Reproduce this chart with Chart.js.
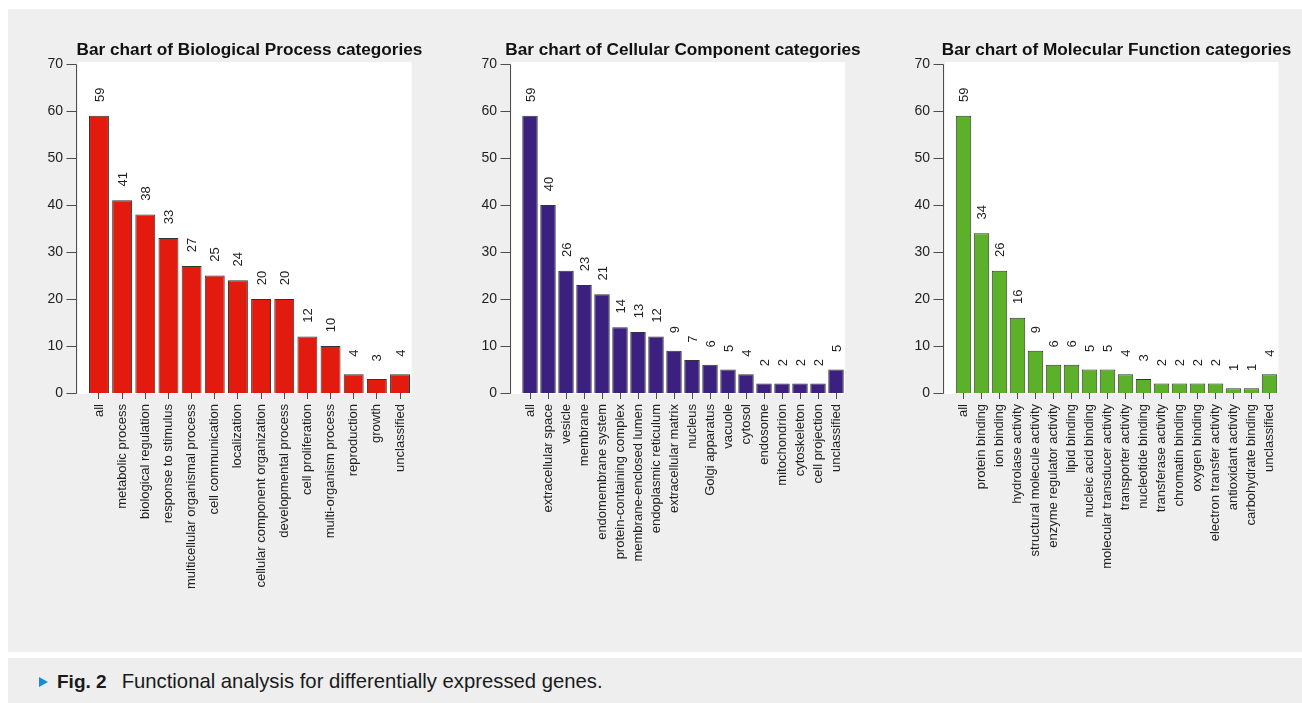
<!DOCTYPE html>
<html>
<head>
<meta charset="utf-8">
<script src="https://cdn.jsdelivr.net/npm/chart.js@4.4.1/dist/chart.umd.min.js"></script>
<style>
    html, body { margin: 0; padding: 0; background: #ffffff; }
    body { width: 1302px; height: 703px; position: relative; overflow: hidden; }
    #panel { position: absolute; left: 8px; top: 9px; width: 1294px; height: 643px; background: #efefef; }
    #caption { position: absolute; left: 8px; top: 658px; width: 1294px; height: 45px; background: #eeeeee;
        font-family: "Liberation Sans", Arial, sans-serif; font-size: 20.3px; color: #1a1a1a; }
    #caption .arrow { position: absolute; left: 31px; top: 19px; width: 0; height: 0;
        border-top: 5px solid transparent; border-bottom: 5px solid transparent; border-left: 9px solid #1a8ad4; }
    #caption .txt { position: absolute; left: 49px; top: 12px; white-space: nowrap; }
    #caption b { font-size: 19px; margin-right: 15px; }
    canvas { position: absolute; top: 0; }
</style>
</head>
<body>
<div id="panel"></div>
<canvas id="bp-chart" width="440" height="650" style="left:0px"></canvas>
<canvas id="cc-chart" width="430" height="650" style="left:440px"></canvas>
<canvas id="mf-chart" width="432" height="650" style="left:870px"></canvas>
<div id="caption"><span class="arrow"></span><span class="txt"><b>Fig. 2</b>Functional analysis for differentially expressed genes.</span></div>

<script>
    // --- data ---
    const bpLabels = ['all', 'metabolic process', 'biological regulation', 'response to stimulus',
        'multicellular organismal process', 'cell communication', 'localization',
        'cellular component organization', 'developmental process', 'cell proliferation',
        'multi-organism process', 'reproduction', 'growth', 'unclassified'];
    const bpValues = [59, 41, 38, 33, 27, 25, 24, 20, 20, 12, 10, 4, 3, 4];

    const ccLabels = ['all', 'extracellular space', 'vesicle', 'membrane', 'endomembrane system',
        'protein-containing complex', 'membrane-enclosed lumen', 'endoplasmic reticulum',
        'extracellular matrix', 'nucleus', 'Golgi apparatus', 'vacuole', 'cytosol', 'endosome',
        'mitochondrion', 'cytoskeleton', 'cell projection', 'unclassified'];
    const ccValues = [59, 40, 26, 23, 21, 14, 13, 12, 9, 7, 6, 5, 4, 2, 2, 2, 2, 5];

    const mfLabels = ['all', 'protein binding', 'ion binding', 'hydrolase activity',
        'structural molecule activity', 'enzyme regulator activity', 'lipid binding',
        'nucleic acid binding', 'molecular transducer activity', 'transporter activity',
        'nucleotide binding', 'transferase activity', 'chromatin binding', 'oxygen binding',
        'electron transfer activity', 'antioxidant activity', 'carbohydrate binding', 'unclassified'];
    const mfValues = [59, 34, 26, 16, 9, 6, 6, 5, 5, 4, 3, 2, 2, 2, 2, 1, 1, 4];

    const yTicks = [0, 10, 20, 30, 40, 50, 60, 70];

    const FONT = '"Liberation Sans", Arial, sans-serif';
    const AXIS_COLOR = '#4d4d4d';
    const TEXT_COLOR = '#1e1e1e';

    // R-style plot box: white region, y axis set off to the left, title, value labels over bars
    const rStylePlugin = {
        id: 'rStyle',
        beforeDraw(chart) {
            const { ctx, chartArea } = chart;
            const y = chart.scales.y;
            const axisX = chartArea.left - 11.5;
            ctx.save();
            ctx.fillStyle = '#ffffff';
            ctx.fillRect(axisX + 2, y.getPixelForValue(70) - 2, chartArea.right - axisX - 2,
                y.getPixelForValue(0) - y.getPixelForValue(70) + 3);
            ctx.restore();
        },
        afterDraw(chart, args, opts) {
            const { ctx, chartArea } = chart;
            const y = chart.scales.y;
            const axisX = Math.round(chartArea.left - 11.5) + 0.5;
            ctx.save();

            // main title (wider than the plot box, so drawn here rather than by the title plugin)
            ctx.fillStyle = '#111111';
            ctx.font = 'bold 17.2px ' + FONT;
            ctx.textAlign = 'center';
            ctx.textBaseline = 'alphabetic';
            ctx.fillText(opts.title, (chartArea.left + chartArea.right) / 2, 54.5);

            ctx.strokeStyle = AXIS_COLOR;
            ctx.lineWidth = 1;
            ctx.beginPath();
            ctx.moveTo(axisX, Math.round(y.getPixelForValue(70)) + 0.5);
            ctx.lineTo(axisX, Math.round(y.getPixelForValue(0)) + 0.5);
            yTicks.forEach(v => {
                const py = Math.round(y.getPixelForValue(v)) + 0.5;
                ctx.moveTo(axisX - 10, py);
                ctx.lineTo(axisX, py);
            });
            ctx.stroke();

            // y tick labels
            ctx.fillStyle = TEXT_COLOR;
            ctx.font = '14px ' + FONT;
            ctx.textAlign = 'right';
            ctx.textBaseline = 'middle';
            yTicks.forEach(v => {
                ctx.fillText(String(v), axisX - 13.5, y.getPixelForValue(v) + 0.5);
            });

            // counts above bars, rotated like srt = 90
            ctx.font = '13px ' + FONT;
            ctx.textAlign = 'center';
            const values = chart.data.datasets[0].data;
            chart.getDatasetMeta(0).data.forEach((bar, i) => {
                ctx.save();
                ctx.translate(bar.x + 1, bar.y - 21);
                ctx.rotate(-Math.PI / 2);
                ctx.fillText(String(values[i]), 0, 0);
                ctx.restore();
            });
            ctx.restore();
        }
    };

    function makeChart(canvasId, title, labels, values, color, padLeft, padRight) {
        const ctx = document.getElementById(canvasId).getContext('2d');
        return new Chart(ctx, {
            type: 'bar',
            data: {
                labels,
                datasets: [{
                    data: values,
                    backgroundColor: color,
                    borderColor: '#333333',
                    borderWidth: 1,
                    barPercentage: 0.86,
                    categoryPercentage: 1.0
                }]
            },
            options: {
                responsive: false,
                animation: false,
                devicePixelRatio: 1,
                layout: { padding: { top: 64, bottom: 57, left: padLeft, right: padRight } },
                plugins: {
                    legend: { display: false },
                    tooltip: { enabled: false },
                    title: { display: false },
                    rStyle: { title }
                },
                scales: {
                    x: {
                        grid: { display: true, drawOnChartArea: false, drawTicks: true, tickLength: 6,
                            offset: false, color: AXIS_COLOR },
                        border: { display: false },
                        ticks: {
                            autoSkip: false, maxRotation: 90, minRotation: 90, padding: 5,
                            color: TEXT_COLOR, font: { family: FONT, size: 13 }
                        },
                        afterFit: scale => { scale.height = 200; }
                    },
                    y: {
                        min: 0,
                        max: 70,
                        grid: { display: false, drawTicks: false },
                        border: { display: false },
                        ticks: { display: false, stepSize: 10 },
                        afterFit: scale => { scale.width = 0; }
                    }
                }
            },
            plugins: [rStylePlugin]
        });
    }

    makeChart('bp-chart', 'Bar chart of Biological Process categories', bpLabels, bpValues, '#e31b0e', 87.4, 28.4);
    makeChart('cc-chart', 'Bar chart of Cellular Component categories', ccLabels, ccValues, '#3b2080', 81, 25);
    makeChart('mf-chart', 'Bar chart of Molecular Function categories', mfLabels, mfValues, '#5db02a', 84.5, 23.5);
</script>
</body>
</html>
